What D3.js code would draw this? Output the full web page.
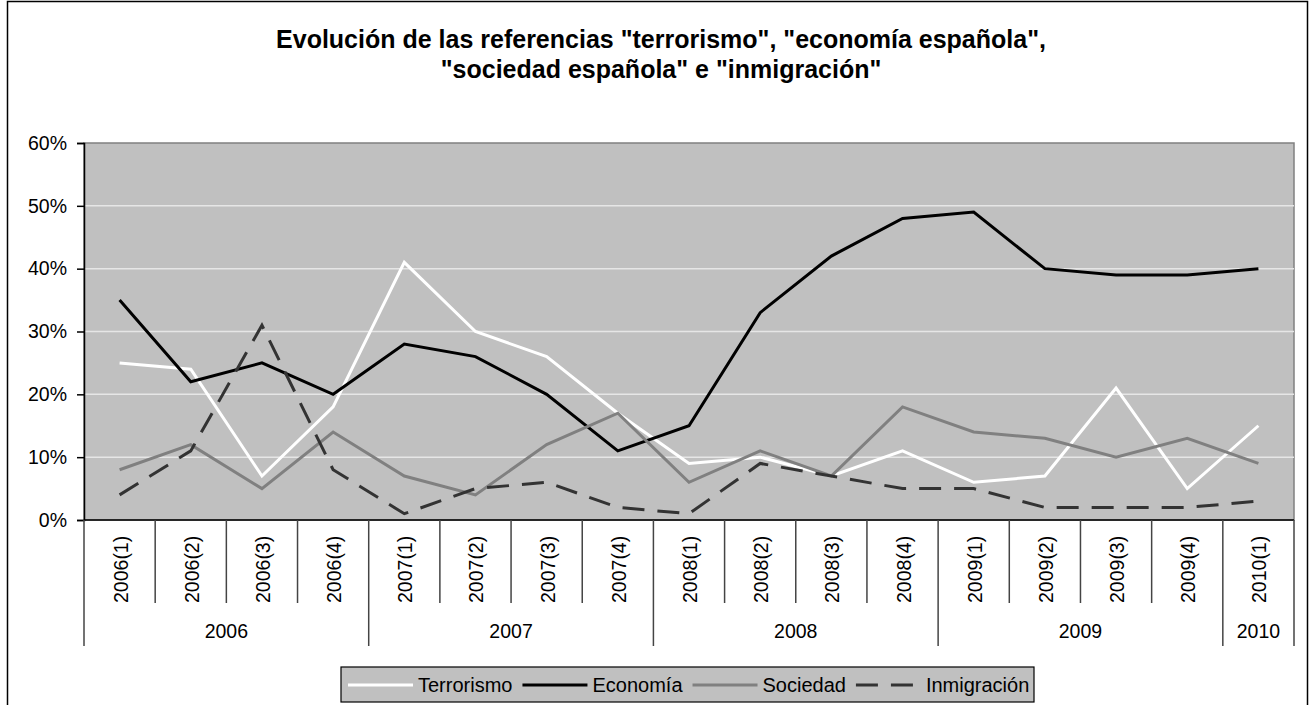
<!DOCTYPE html>
<html>
<head>
<meta charset="utf-8">
<script src="https://cdn.jsdelivr.net/npm/d3@7"></script>
<style>
    body { margin: 0; background: #fff; }
    text { font-family: "Liberation Sans", Arial, sans-serif; fill: #000; }
</style>
</head>
<body>
<svg id="chart" width="1316" height="705"></svg>
<script>
'use strict';

// quarters and the year each one belongs to
let quarters = ["2006(1)", "2006(2)", "2006(3)", "2006(4)",
                "2007(1)", "2007(2)", "2007(3)", "2007(4)",
                "2008(1)", "2008(2)", "2008(3)", "2008(4)",
                "2009(1)", "2009(2)", "2009(3)", "2009(4)",
                "2010(1)"]
let years = ["2006", "2007", "2008", "2009", "2010"]

// percentages
let terrorismo  = [25, 24, 7, 18, 41, 30, 26, 17, 9, 10, 7, 11, 6, 7, 21, 5, 15]
let economia    = [35, 22, 25, 20, 28, 26, 20, 11, 15, 33, 42, 48, 49, 40, 39, 39, 40]
let sociedad    = [8, 12, 5, 14, 7, 4, 12, 17, 6, 11, 7, 18, 14, 13, 10, 13, 9]
let inmigracion = [4, 11, 31, 8, 1, 5, 6, 2, 1, 9, 7, 5, 5, 2, 2, 2, 3]

let yTicks = [0, 10, 20, 30, 40, 50, 60]

let series = [
    { name: "Terrorismo", values: terrorismo, color: "#ffffff", dash: null },
    { name: "Economía", values: economia, color: "#000000", dash: null },
    { name: "Sociedad", values: sociedad, color: "#808080", dash: null },
    { name: "Inmigración", values: inmigracion, color: "#333333", dash: "22,13" }
]

let svg = d3.select("#chart")
let margin = { left: 84, right: 1294, top: 143, bottom: 520 }

// outer chart frame
svg.append("rect")
    .attr("x", 7.5).attr("y", 1.5)
    .attr("width", 1300).attr("height", 720)
    .attr("fill", "#fff")
    .attr("stroke", "#000")
    .attr("stroke-width", 1.5)

let title = svg.append("text")
    .attr("text-anchor", "middle")
    .attr("font-weight", "bold")
    .attr("font-size", 25)
title.append("tspan").attr("x", 661).attr("y", 48)
    .text('Evolución de las referencias "terrorismo", "economía española",')
title.append("tspan").attr("x", 661).attr("y", 78)
    .text('"sociedad española" e "inmigración"')

let x = d3.scaleBand()
    .domain(quarters)
    .range([margin.left, margin.right])

let y = d3.scaleLinear()
    .domain([0, 60])
    .range([margin.bottom, margin.top])

// plot background
svg.append("rect")
    .attr("x", margin.left).attr("y", margin.top)
    .attr("width", margin.right - margin.left)
    .attr("height", margin.bottom - margin.top)
    .attr("fill", "#c0c0c0")
    .attr("stroke", "#808080")
    .attr("stroke-width", 1.5)

// gridlines
svg.append("g")
    .selectAll("line")
    .data(yTicks.filter(function(d) { return d > 0 && d < 60 }))
    .enter().append("line")
    .attr("x1", margin.left).attr("x2", margin.right)
    .attr("y1", function(d) { return y(d) }).attr("y2", function(d) { return y(d) })
    .attr("stroke", "#e6e6e6")
    .attr("stroke-width", 1.5)

// y axis
let yAxis = d3.axisLeft(y)
    .tickValues(yTicks)
    .tickSize(7)
    .tickPadding(10)
    .tickFormat(function(d) { return d + "%" })
let yg = svg.append("g")
    .attr("transform", "translate(" + margin.left + ",0)")
    .call(yAxis)
yg.select(".domain").attr("stroke", "#000").attr("stroke-width", 1.5)
yg.selectAll(".tick line").attr("stroke", "#000").attr("stroke-width", 1.5)
yg.selectAll(".tick text")
    .attr("font-size", 19.5)
    .attr("font-family", "Liberation Sans, Arial, sans-serif")
    .attr("fill", "#000")

// x axis line
svg.append("line")
    .attr("x1", margin.left).attr("x2", margin.right)
    .attr("y1", margin.bottom).attr("y2", margin.bottom)
    .attr("stroke", "#000")
    .attr("stroke-width", 1.5)

// quarter separators and labels
let bounds = quarters.map(function(q) { return x(q) }).concat([margin.right])
let yearStarts = years.map(function(yr) {
    return x(quarters.filter(function(q) { return q.indexOf(yr) === 0 })[0])
}).concat([margin.right])

svg.append("g")
    .selectAll("line")
    .data(bounds)
    .enter().append("line")
    .attr("x1", function(d) { return d }).attr("x2", function(d) { return d })
    .attr("y1", margin.bottom)
    .attr("y2", function(d) {
        return yearStarts.some(function(s) { return Math.abs(s - d) < 0.5 }) ? 646 : 603
    })
    .attr("stroke", "#444")
    .attr("stroke-width", 1.5)

svg.append("g")
    .selectAll("text")
    .data(quarters)
    .enter().append("text")
    .attr("transform", function(d) {
        return "translate(" + (x(d) + x.bandwidth() / 2 + 8) + ",603) rotate(-90)"
    })
    .attr("font-size", 19.5)
    .text(function(d) { return d })

svg.append("g")
    .selectAll("text")
    .data(years)
    .enter().append("text")
    .attr("x", function(d, i) { return (yearStarts[i] + yearStarts[i + 1]) / 2 })
    .attr("y", 638)
    .attr("text-anchor", "middle")
    .attr("font-size", 19.5)
    .text(function(d) { return d })

// series lines
let line = d3.line()
    .x(function(d, i) { return x(quarters[i]) + x.bandwidth() / 2 })
    .y(function(d) { return y(d) })

svg.append("g")
    .selectAll("path")
    .data(series)
    .enter().append("path")
    .attr("d", function(d) { return line(d.values) })
    .attr("fill", "none")
    .attr("stroke", function(d) { return d.color })
    .attr("stroke-width", 3)
    .attr("stroke-dasharray", function(d) { return d.dash })

// legend
let legend = svg.append("g")
legend.append("rect")
    .attr("x", 341).attr("y", 667)
    .attr("width", 693).attr("height", 35)
    .attr("fill", "#c0c0c0")
    .attr("stroke", "#000")
    .attr("stroke-width", 1.2)

let cursor = 348
series.forEach(function(s) {
    legend.append("line")
        .attr("x1", cursor).attr("x2", cursor + 65)
        .attr("y1", 685).attr("y2", 685)
        .attr("stroke", s.color)
        .attr("stroke-width", 3)
        .attr("stroke-dasharray", s.dash)
    let label = legend.append("text")
        .attr("x", cursor + 70)
        .attr("y", 692)
        .attr("font-size", 20)
        .text(s.name)
    cursor += 70 + label.node().getComputedTextLength() + 10
})
</script>
</body>
</html>
